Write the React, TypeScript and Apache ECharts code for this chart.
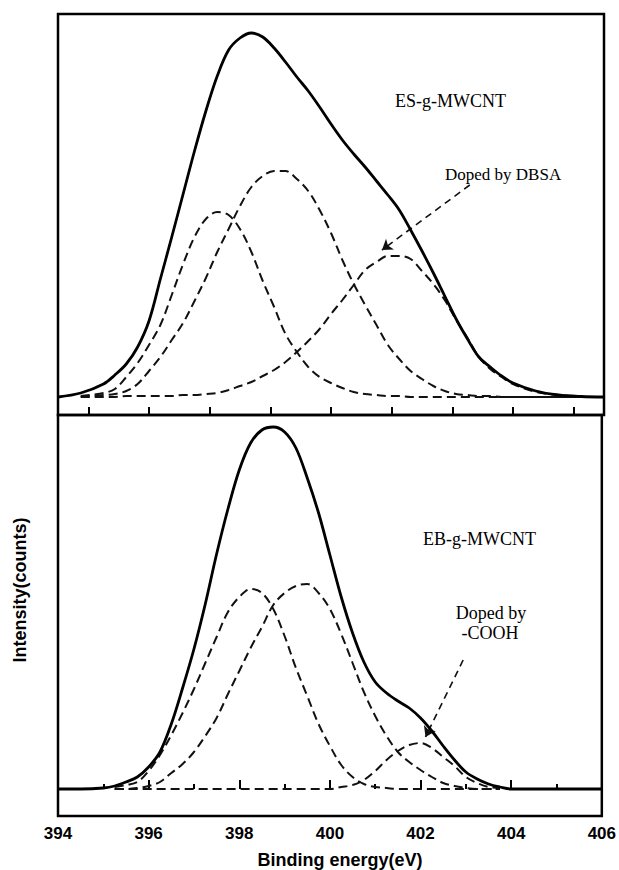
import React, { useEffect, useRef } from "react";
import * as echarts from "echarts";

// Binding energy grid (eV)
const ENERGY_EV = [
  394, 394.5, 395, 395.25, 395.5, 395.75, 396, 396.25, 396.5, 396.75, 397, 397.25, 397.5, 397.75,
  398, 398.25, 398.5, 398.75, 399, 399.25, 399.5, 399.75, 400, 400.25, 400.5, 400.75, 401, 401.25,
  401.5, 401.75, 402, 402.25, 402.5, 402.75, 403, 403.25, 403.5, 403.75, 404, 404.5, 405, 405.5, 406,
];

// Top panel: ES-g-MWCNT
const ES_TOTAL = [
  0, 4, 13, 22, 33, 50, 76, 118, 160, 203, 246, 286, 321, 347,
  359, 364, 360, 349, 335, 320, 306, 290, 273, 257, 243, 230, 216, 202,
  187, 167, 146, 124, 101, 78, 58, 40, 30, 21, 14, 6, 2, 0.5, 0,
];
const ES_PEAK_1 = [
  null, 1, 4, 8, 20, 34, 52, 72, 102, 133, 160, 178, 185, 182,
  168, 145, 116, 90, 63, 45, 30, 20, 14, 9, 5, 3, 2, 1,
  1, 0, 0, 0, 0, 0, 0, 0, 0, 0, 0, 0, 0, 0, null,
];
const ES_PEAK_2 = [
  null, 0, 2, 3, 6, 13, 26, 40, 57, 74, 96, 119, 145, 168,
  191, 210, 221, 226, 226, 218, 206, 187, 164, 137, 113, 92, 72, 52,
  38, 26, 18, 11, 6, 3, 2, 1, 1, 0, 0, 0, 0, 0, null,
];
const ES_PEAK_3 = [
  null, 0, 0, 0, 1, 1, 1, 1, 1, 2, 2, 3, 4, 7,
  11, 15, 21, 27, 35, 45, 56, 68, 83, 97, 112, 127, 135, 141,
  141, 138, 126, 113, 97, 77, 59, 40, 28, 20, 13, 5, 2, 0, null,
];

// Bottom panel: EB-g-MWCNT
const EB_TOTAL = [
  0, 0, 1, 3, 7, 12, 22, 37, 65, 101, 140, 185, 235, 280,
  319, 346, 359, 362, 357, 341, 311, 276, 234, 192, 156, 127, 107, 96,
  88, 81, 71, 58, 43, 29, 17, 10, 5, 2, 0, 0, 0, 0, 0,
];
const EB_PEAK_1 = [
  null, null, null, 2, 4, 7, 18, 34, 54, 76, 100, 126, 152, 177,
  192, 200, 196, 180, 153, 121, 93, 65, 43, 24, 12, 5, 2, 1,
  0, 0, 0, 0, 0, 0, 0, 0, 0, 0, null, null, null, null, null,
];
const EB_PEAK_2 = [
  null, null, null, 0, 0, 1, 3, 7, 16, 25, 37, 53, 71, 95,
  118, 141, 162, 184, 196, 203, 205, 196, 180, 155, 126, 97, 73, 53,
  37, 27, 19, 12, 6, 3, 1, 0, 0, 0, null, null, null, null, null,
];
const EB_PEAK_3 = [
  null, null, null, 0, 0, 0, 0, 0, 0, 0, 0, 0, 0, 0,
  0, 0, 0, 0, 0, 0, 0, 0, 0, 2, 4, 9, 18, 29,
  38, 44, 46, 41, 32, 23, 12, 6, 2, 1, null, null, null, null, null,
];

// Axis settings
const X_MIN = 394;
const X_MAX = 406;
const X_INTERVAL = 2;
const TOP_TICK_SLOTS = ["1", "2", "3", "4", "5", "6", "7", "8", "9"];

// Annotation arrows [start, end] in data coords
const DBSA_ARROW = [[403.05, 212], [401.12, 147]];
const COOH_ARROW = [[402.94, 129], [402.11, 52]];

const SERIF = "Liberation Serif";
const SANS = "Liberation Sans";

function pairs(vals: (number | null)[]) {
  const out: number[][] = [];
  ENERGY_EV.forEach((e, i) => {
    const v = vals[i];
    if (v !== null && v !== undefined) out.push([e, v]);
  });
  return out;
}

function solid(name: string, vals: (number | null)[], xi: number, yi: number) {
  return {
    name,
    type: "line",
    xAxisIndex: xi,
    yAxisIndex: yi,
    data: pairs(vals),
    showSymbol: false,
    smooth: 0.35,
    z: 5,
    silent: true,
    lineStyle: { color: "#000", width: 2.8 },
  };
}

function dashed(name: string, vals: (number | null)[], xi: number, yi: number, arrow?: number[][]) {
  const s: any = {
    name,
    type: "line",
    xAxisIndex: xi,
    yAxisIndex: yi,
    data: pairs(vals),
    showSymbol: false,
    smooth: 0.35,
    z: 3,
    silent: true,
    lineStyle: { color: "#111", width: 2, type: [9, 5] },
  };
  if (arrow) {
    s.markLine = {
      silent: true,
      symbol: ["none", "arrow"],
      symbolSize: 10,
      label: { show: false },
      lineStyle: { color: "#111", width: 1.6, type: [7, 5] },
      data: [[{ coord: arrow[0] }, { coord: arrow[1] }]],
    };
  }
  return s;
}

export default function App() {
  const ref = useRef<HTMLDivElement>(null);
  useEffect(() => {
    if (!ref.current) return;
    const chart = echarts.init(ref.current, undefined, { renderer: "svg" });
    const tickStyle = { color: "#000", width: 2 };
    chart.setOption({
      animation: false,
      backgroundColor: "#fff",
      grid: [
        { left: 58, top: 14, width: 546, height: 401, show: true, borderColor: "#000", borderWidth: 2.5 },
        { left: 58, top: 415, width: 546, height: 401, show: true, borderColor: "#000", borderWidth: 2.5 },
      ],
      xAxis: [
        { type: "value", gridIndex: 0, min: X_MIN, max: X_MAX, show: false },
        {
          type: "category",
          gridIndex: 0,
          data: TOP_TICK_SLOTS,
          boundaryGap: true,
          position: "bottom",
          axisLine: { show: false },
          axisTick: { show: true, inside: true, alignWithLabel: true, interval: 0, length: 8, lineStyle: tickStyle },
          axisLabel: { show: false },
          splitLine: { show: false },
        },
        {
          type: "value",
          gridIndex: 1,
          min: X_MIN,
          max: X_MAX,
          interval: X_INTERVAL,
          axisLine: { show: false },
          axisTick: { show: true, inside: true, length: 9, lineStyle: tickStyle },
          minorTick: { show: true, splitNumber: 2, length: 5, lineStyle: tickStyle },
          splitLine: { show: false },
          minorSplitLine: { show: false },
          axisLabel: { margin: 9, color: "#000", fontFamily: SANS, fontWeight: "bold", fontSize: 17 },
        },
      ],
      yAxis: [
        { type: "value", gridIndex: 0, min: -18, max: 383, show: false },
        { type: "value", gridIndex: 1, min: -27, max: 374, show: false },
      ],
      series: [
        dashed("ES peak 1", ES_PEAK_1, 0, 0),
        dashed("ES peak 2", ES_PEAK_2, 0, 0),
        dashed("ES peak 3", ES_PEAK_3, 0, 0, DBSA_ARROW),
        solid("ES total", ES_TOTAL, 0, 0),
        dashed("EB peak 1", EB_PEAK_1, 2, 1),
        dashed("EB peak 2", EB_PEAK_2, 2, 1),
        dashed("EB peak 3", EB_PEAK_3, 2, 1, COOH_ARROW),
        solid("EB total", EB_TOTAL, 2, 1),
      ],
      graphic: [
        { type: "text", x: 395, y: 101, style: { text: "ES-g-MWCNT", font: `18px '${SERIF}'`, fill: "#000", textAlign: "left", textVerticalAlign: "middle" } },
        { type: "text", x: 445, y: 174, style: { text: "Doped by DBSA", font: `17px '${SERIF}'`, fill: "#000", textAlign: "left", textVerticalAlign: "middle" } },
        { type: "text", x: 423, y: 539, style: { text: "EB-g-MWCNT", font: `18px '${SERIF}'`, fill: "#000", textAlign: "left", textVerticalAlign: "middle" } },
        { type: "text", x: 491, y: 613, style: { text: "Doped by", font: `18px '${SERIF}'`, fill: "#000", textAlign: "center", textVerticalAlign: "middle" } },
        { type: "text", x: 490, y: 633, style: { text: "-COOH", font: `18px '${SERIF}'`, fill: "#000", textAlign: "center", textVerticalAlign: "middle" } },
        { type: "text", x: 340, y: 860, style: { text: "Binding energy(eV)", font: `bold 18px '${SANS}'`, fill: "#000", textAlign: "center", textVerticalAlign: "middle" } },
        { type: "text", x: 20, y: 590, rotation: Math.PI / 2, style: { text: "Intensity(counts)", font: `bold 18px '${SANS}'`, fill: "#000", textAlign: "center", textVerticalAlign: "middle" } },
      ],
    });
    return () => chart.dispose();
  }, []);
  return <div ref={ref} style={{ position: "fixed", left: 0, top: 0, width: 619, height: 870, background: "#fff" }} />;
}
